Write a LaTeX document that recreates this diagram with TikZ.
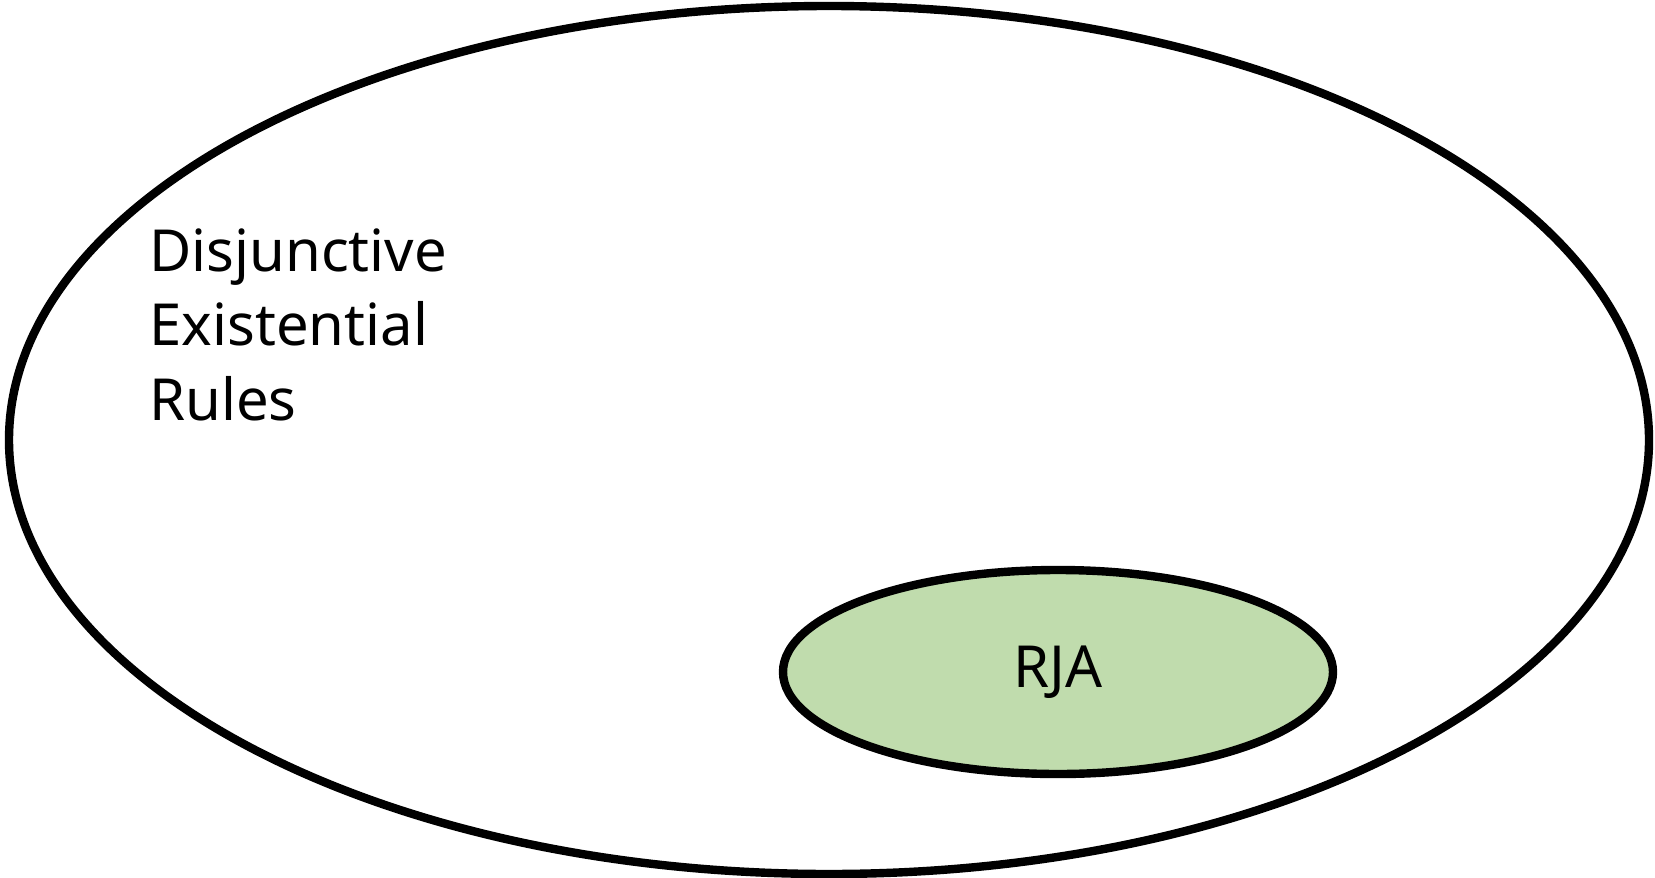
\documentclass[tikz,border=0pt]{standalone}
\usepackage{fontspec}
\setmainfont{Noto Sans}
\usetikzlibrary{shapes.geometric}
\definecolor{RjaGreen}{RGB}{192,220,173}

\begin{document}
\begin{tikzpicture}[x=0.5pt,y=-0.5pt,set/.style={draw,ellipse,line width=4.2pt,inner sep=0pt},lbl/.style={font=\fontsize{29}{37.25}\selectfont,inner sep=0pt}]
\useasboundingbox (0,0) rectangle (1655,878);
\node[set,minimum width=820pt,minimum height=434pt] (der) at (829,440) {};
\node[set,fill=RjaGreen,minimum width=275pt,minimum height=102pt,lbl] (rja) at (1058,672) {RJA};
\node[lbl,align=left,anchor=north west] (derlbl) at (149,228) {Disjunctive\\Existential\\Rules};
\end{tikzpicture}
\end{document}
